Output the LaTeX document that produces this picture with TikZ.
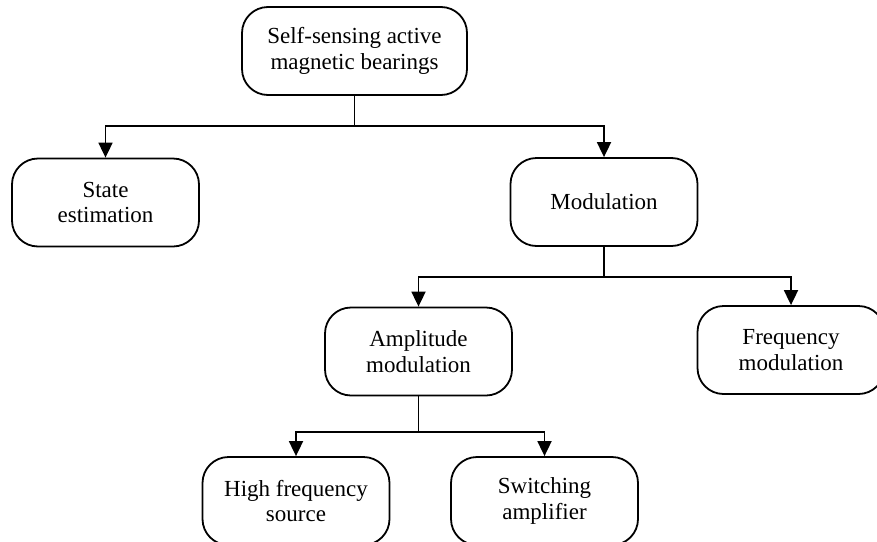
\documentclass[tikz,border=0pt]{standalone}
\usepackage{fontspec}
\setmainfont{Liberation Serif}
\usepackage{tikz}
\usetikzlibrary{arrows.meta,calc}

\begin{document}
\begin{tikzpicture}[x=1pt,y=-1pt,line width=1.8pt,
  >={Triangle[width=14pt,length=15pt]},
  box node/.style={draw,rounded corners=26pt,minimum width=187pt,minimum height=88pt,
    align=center,inner sep=2pt,font=\fontsize{23}{25.5}\selectfont}]
\useasboundingbox (0,0) rectangle (877,541);

\node[box node,minimum width=225pt] (SAMB) at (354.5,51) {Self-sensing active\\magnetic bearings};
\node[box node] (SE) at (105.5,202.5) {State\\estimation};
\node[box node] (MOD) at (604,202) {Modulation};
\node[box node] (AM) at (418.5,351.5) {Amplitude\\modulation};
\node[box node] (FM) at (791,350) {Frequency\\modulation};
\node[box node] (HFS) at (296,501) {High frequency\\source};
\node[box node] (SA) at (544.5,501) {Switching\\amplifier};

% junctions
\coordinate (J1) at (354.5,126);
\coordinate (J2) at (604,277);
\coordinate (J3) at (418.5,432);

\draw (SAMB) -- (J1);
\draw[->] (J1) -| (SE);
\draw[->] (J1) -| (MOD);

\draw (MOD) -- (J2);
\draw[->] (J2) -| (AM);
\draw[->] (J2) -| (FM);

\draw (AM) -- (J3);
\draw[->] (J3) -| (HFS);
\draw[->] (J3) -| (SA);

\end{tikzpicture}
\end{document}
